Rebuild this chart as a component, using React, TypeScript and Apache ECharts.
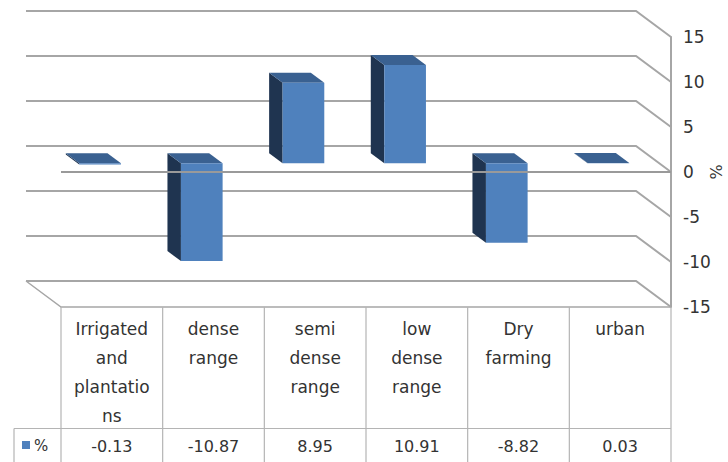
import React, { useEffect, useRef } from "react";
import * as echarts from "echarts";

const categories = [
  "Irrigated and plantations",
  "dense range",
  "semi dense range",
  "low dense range",
  "Dry farming",
  "urban",
];
const values = [-0.13, -10.87, 8.95, 10.91, -8.82, 0.03];
const yTicks = [-15, -10, -5, 0, 5, 10, 15];
const seriesName = "%";

const FONT = "DejaVu Sans";
const TEXT = "#333333";
const GRID_COLOR = "#a6a6a6";
const DX = -35;
const DY = -26;
const FRONT_D = 0.335;
const BACK_D = 0.72;
const BAR_RATIO = 0.41;
const TABLE_BOTTOM = 462;
const ROW_LINE = 428.5;
const VALUE_Y = 446;

function wrapLabel(s: string): string {
  const out: string[] = [];
  s.split(" ").forEach((w) => {
    let rest = w;
    while (rest.length > 9) {
      out.push(rest.slice(0, 9));
      rest = rest.slice(9);
    }
    out.push(rest);
  });
  return out.join("\n");
}

export default function App() {
  const ref = useRef<HTMLDivElement>(null);
  useEffect(() => {
    document.body.style.margin = "0";
    if (!ref.current) return;
    const chart = echarts.init(ref.current, undefined, { renderer: "svg" });
    const yMin = yTicks[0];
    const yMax = yTicks[yTicks.length - 1];

    const gridRender = (params: any, api: any) => {
      const v = api.value(1);
      const cs = params.coordSys;
      const y = api.coord([0, v])[1];
      const x0 = cs.x;
      const x1 = cs.x + cs.width;
      const style = { stroke: GRID_COLOR, lineWidth: 2, fill: null };
      const children: any[] = [
        {
          type: "polyline",
          shape: { points: [[x0 + DX, y + DY], [x1 + DX, y + DY], [x1, y]] },
          style,
        },
      ];
      if (v === yMin) {
        children.push({
          type: "polyline",
          shape: { points: [[x0 + DX, y + DY], [x0, y], [x1, y]] },
          style: { stroke: GRID_COLOR, lineWidth: 1.5, fill: null },
        });
      }
      return { type: "group", children };
    };

    const barRender = (params: any, api: any) => {
      const i = api.value(0);
      const v = api.value(1);
      const cs = params.coordSys;
      const pv = api.coord([i, v]);
      const p0 = api.coord([i, 0]);
      const bandW = api.size([1, 0])[0];
      const w = bandW * BAR_RATIO;
      const fx = DX * FRONT_D;
      const fy = DY * FRONT_D;
      const ddx = DX * (BACK_D - FRONT_D);
      const ddy = DY * (BACK_D - FRONT_D);
      const cx = p0[0] + fx;
      const xL = cx - w / 2;
      const xR = cx + w / 2;
      const yTop = Math.min(pv[1], p0[1]) + fy;
      const yBot = Math.max(pv[1], p0[1]) + fy;
      const children: any[] = [
        {
          type: "polygon",
          shape: {
            points: [[xL, yTop], [xL + ddx, yTop + ddy], [xL + ddx, yBot + ddy], [xL, yBot]],
          },
          style: { fill: "#1f3450" },
        },
        {
          type: "polygon",
          shape: {
            points: [[xL, yTop], [xR, yTop], [xR + ddx, yTop + ddy], [xL + ddx, yTop + ddy]],
          },
          style: { fill: "#3a6191" },
        },
        {
          type: "rect",
          shape: { x: xL, y: yTop, width: w, height: Math.max(yBot - yTop, 0.3) },
          style: { fill: "#4f81bd" },
        },
      ];
      const floorY = cs.y + cs.height;
      const leftX = p0[0] - bandW / 2;
      children.push({
        type: "line",
        shape: { x1: leftX, y1: floorY, x2: leftX, y2: TABLE_BOTTOM },
        style: { stroke: "#b4b4b4", lineWidth: 1.2 },
      });
      if (i === categories.length - 1) {
        const rx = p0[0] + bandW / 2;
        children.push({
          type: "line",
          shape: { x1: rx, y1: floorY, x2: rx, y2: TABLE_BOTTOM },
          style: { stroke: "#b4b4b4", lineWidth: 1.2 },
        });
      }
      children.push({
        type: "text",
        style: {
          x: p0[0],
          y: VALUE_Y,
          text: v.toFixed(2),
          fill: TEXT,
          font: `16px "${FONT}"`,
          textAlign: "center",
          textVerticalAlign: "middle",
        },
      });
      return { type: "group", children };
    };

    const zeroRender = (params: any, api: any) => {
      const cs = params.coordSys;
      const y = api.coord([0, api.value(1)])[1];
      return {
        type: "line",
        shape: { x1: cs.x, y1: y, x2: cs.x + cs.width, y2: y },
        style: { stroke: "#9a9a9a", lineWidth: 2 },
      };
    };

    chart.setOption({
      animation: false,
      textStyle: { fontFamily: FONT },
      grid: { left: 61, right: 57, top: 37, bottom: 155, containLabel: false, outerBoundsMode: "none" },
      xAxis: {
        type: "category",
        data: categories,
        axisLine: { show: false },
        axisTick: { show: false },
        splitLine: { show: false },
        axisLabel: {
          interval: 0,
          margin: 7,
          fontSize: 17,
          lineHeight: 29,
          color: TEXT,
          fontFamily: FONT,
          formatter: (s: string) => wrapLabel(s),
        },
      },
      yAxis: {
        type: "value",
        position: "right",
        min: yMin,
        max: yMax,
        interval: 5,
        axisLine: { show: true, lineStyle: { color: GRID_COLOR, width: 2 } },
        axisTick: { show: false },
        splitLine: { show: false },
        axisLabel: { margin: 12, fontSize: 17, color: TEXT, fontFamily: FONT },
      },
      series: [
        {
          type: "custom",
          name: "grid3d",
          z: 1,
          silent: true,
          renderItem: gridRender,
          data: yTicks.map((t) => [0, t]),
          encode: { x: 0, y: 1 },
        },
        {
          type: "custom",
          name: seriesName,
          z: 2,
          renderItem: barRender,
          data: values.map((v, i) => [i, v]),
          encode: { x: 0, y: 1 },
        },
        {
          type: "custom",
          name: "zero",
          z: 3,
          silent: true,
          renderItem: zeroRender,
          data: [[0, 0]],
          encode: { x: 0, y: 1 },
        },
      ],
      graphic: [
        {
          type: "text",
          x: 716,
          y: 172,
          rotation: Math.PI / 2,
          style: {
            text: seriesName,
            fill: TEXT,
            font: `16px "${FONT}"`,
            textAlign: "center",
            textVerticalAlign: "middle",
          },
        },
        {
          type: "line",
          shape: { x1: 14, y1: ROW_LINE, x2: 671, y2: ROW_LINE },
          style: { stroke: "#b4b4b4", lineWidth: 1.2 },
        },
        {
          type: "line",
          shape: { x1: 14, y1: ROW_LINE, x2: 14, y2: TABLE_BOTTOM },
          style: { stroke: "#b4b4b4", lineWidth: 1.2 },
        },
        {
          type: "rect",
          shape: { x: 22, y: 441, width: 8, height: 8 },
          style: { fill: "#4f81bd" },
        },
        {
          type: "text",
          x: 34,
          y: VALUE_Y,
          style: {
            text: seriesName,
            fill: TEXT,
            font: `15px "${FONT}"`,
            textVerticalAlign: "middle",
          },
        },
      ],
    });
    return () => chart.dispose();
  }, []);
  return <div ref={ref} style={{ width: 728, height: 462 }} />;
}
